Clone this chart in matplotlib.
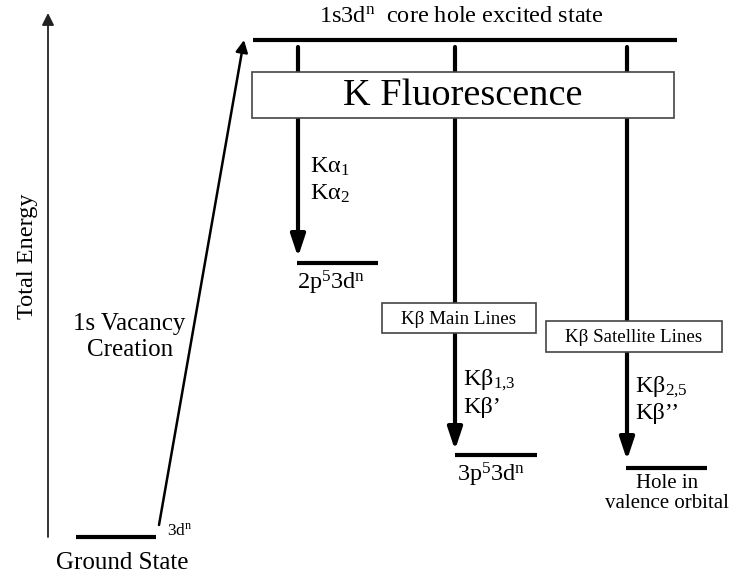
import matplotlib.pyplot as plt
from matplotlib.patches import Rectangle

plt.rcParams['font.family'] = ['Liberation Serif', 'DejaVu Serif']
plt.rcParams['mathtext.fontset'] = 'custom'
plt.rcParams['mathtext.rm'] = 'Liberation Serif'
plt.rcParams['mathtext.it'] = 'Liberation Serif:italic'

# energy levels (drawn in pixel-like units, y grows downward)
level_labels = ['ground', 'core', '2p', '3p', 'valence']
level_y = [537, 40, 263, 455, 468]
level_x0 = [76, 253, 297, 455, 626]
level_x1 = [156, 677, 378, 537, 707]

# emission columns
col_x = [298, 455, 627]
col_tip = [257, 450, 460]
col_names = ['Kalpha', 'Kbeta main', 'Kbeta sat']

# line-group boxes for the K beta columns
box_text = ['Kβ Main Lines', 'Kβ Satellite Lines']
box_x0 = [382, 546]
box_x1 = [536, 722]
box_y0 = [303, 321]
box_y1 = [333, 352]

# transition labels (two lines each)
trans_top = ['Kα$_1$', 'Kβ$_{1{,}3}$', 'Kβ$_{2{,}5}$']
trans_bot = ['Kα$_2$', 'Kβ’', 'Kβ’’']
trans_x = [310, 463, 635]
trans_y = [167, 380, 387]

fig = plt.figure(figsize=(7.32, 5.76), dpi=100)
ax = fig.add_axes([0, 0, 1, 1])
ax.set_xlim(0, 732)
ax.set_ylim(576, 0)
ax.axis('off')

# levels
for y, x0, x1 in zip(level_y, level_x0, level_x1):
    ax.plot([x0, x1], [y, y], color='black', lw=3, solid_capstyle='butt', zorder=2)

# total energy axis arrow
ax.annotate('', xy=(48, 13), xytext=(48, 537),
            arrowprops=dict(arrowstyle='-|>', lw=1.3, color='#222222',
                            mutation_scale=18, shrinkA=0, shrinkB=0))
ax.text(27, 256, 'Total Energy', rotation=90, ha='center', va='center', fontsize=17.5)

# 1s vacancy creation arrow
ax.annotate('', xy=(244, 40), xytext=(159, 525),
            arrowprops=dict(arrowstyle='-|>', lw=1.8, color='black',
                            mutation_scale=18, shrinkA=0, shrinkB=0))
ax.text(129, 324, '1s Vacancy', ha='center', va='center', fontsize=18)
ax.text(130, 350, 'Creation', ha='center', va='center', fontsize=18)

# emission arrows
for x, tip in zip(col_x, col_tip):
    ax.annotate('', xy=(x, tip), xytext=(x, 47),
                arrowprops=dict(arrowstyle='-|>,head_length=0.6,head_width=0.2',
                                lw=3, color='black', mutation_scale=22,
                                shrinkA=0, shrinkB=0), zorder=1)

# K fluorescence box
ax.add_patch(Rectangle((252, 72), 674 - 252, 118 - 72, facecolor='white',
                       edgecolor='#444444', lw=1.2, zorder=3))
ax.text(463, 96, 'K Fluorescence', ha='center', va='center', fontsize=27.5, zorder=4)

for t, x0, x1, y0, y1 in zip(box_text, box_x0, box_x1, box_y0, box_y1):
    ax.add_patch(Rectangle((x0, y0), x1 - x0, y1 - y0, facecolor='white',
                           edgecolor='#444444', lw=1.2, zorder=3))
    ax.text((x0 + x1) / 2, (y0 + y1) / 2 + 1, t, ha='center', va='center',
            fontsize=13.7, zorder=4)

for t, b, x, y in zip(trans_top, trans_bot, trans_x, trans_y):
    ax.text(x, y, t, ha='left', va='center', fontsize=17.5)
    ax.text(x, y + 27, b, ha='left', va='center', fontsize=17.5)

# level labels
ax.text(461, 17, '1s3d$^{\\mathrm{n}}$  core hole excited state', ha='center',
        va='center', fontsize=17.5)
ax.text(331, 283, '2p$^{5}$3d$^{\\mathrm{n}}$', ha='center', va='center', fontsize=17.5)
ax.text(491, 475, '3p$^{5}$3d$^{\\mathrm{n}}$', ha='center', va='center', fontsize=17.5)
ax.text(667, 483, 'Hole in', ha='center', va='center', fontsize=15)
ax.text(667, 504, 'valence orbital', ha='center', va='center', fontsize=15)
ax.text(122, 563, 'Ground State', ha='center', va='center', fontsize=18)
ax.text(167, 531, '3d$^{\\mathrm{n}}$', ha='left', va='center', fontsize=12.5)

fig.savefig('out.png', dpi=100)
